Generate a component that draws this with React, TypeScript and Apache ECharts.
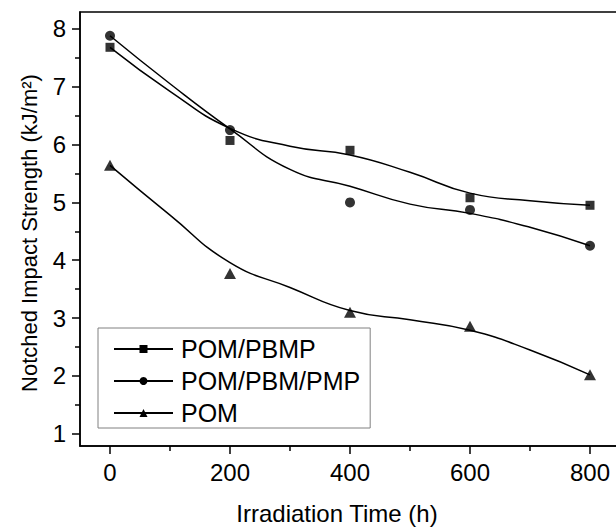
import React, { useEffect, useRef } from "react";
import * as echarts from "echarts";

// Measured data points
const hours = [0, 200, 400, 600, 800];
const pbmpPoints = [7.68, 6.07, 5.9, 5.08, 4.95];
const pbmPmpPoints = [7.88, 6.25, 5.0, 4.87, 4.25];
const pomPoints = [5.64, 3.77, 3.1, 2.86, 2.02];

// Fitted (B-spline) curves
const fitHours = [0, 100, 200, 300, 400, 500, 600, 700, 800];
const pbmpFit = [7.68, 6.92, 6.28, 5.97, 5.82, 5.52, 5.16, 5.03, 4.95];
const pbmPmpFit = [7.88, 7.05, 6.27, 5.57, 5.28, 4.97, 4.81, 4.57, 4.25];
const pomFit = [5.64, 4.78, 3.96, 3.53, 3.13, 2.97, 2.79, 2.45, 2.02];

const seriesNames = ["POM/PBMP", "POM/PBM/PMP", "POM"];
const xMajorTicks = [0, 200, 400, 600, 800];
const xMinorTicks = [100, 300, 500, 700];
const yMajorTicks = [1, 2, 3, 4, 5, 6, 7, 8];
const yMinorTicks = [1.5, 2.5, 3.5, 4.5, 5.5, 6.5, 7.5];

const FONT = "'Liberation Sans', Arial, sans-serif";

export default function App() {
  const ref = useRef<HTMLDivElement>(null);

  useEffect(() => {
    if (!ref.current) return;
    const chart = echarts.init(ref.current, null, { renderer: "svg" });
    const pair = (xs: number[], ys: number[]) => xs.map((x, i) => [x, ys[i]]);
    const symbols = ["rect", "circle", "triangle"];
    const symbolSizes: any[] = [9, 10, [12, 11]];
    const fits = [pbmpFit, pbmPmpFit, pomFit];
    const pts = [pbmpPoints, pbmPmpPoints, pomPoints];

    const series: any[] = [];
    seriesNames.forEach((name, i) => {
      series.push({
        name,
        type: "line",
        xAxisIndex: 0,
        yAxisIndex: 0,
        data: pair(fitHours, fits[i]),
        smooth: 0.5,
        symbol: symbols[i],
        showSymbol: false,
        color: "#000",
        lineStyle: { color: "#000", width: 1.5 },
        itemStyle: { color: "#000" },
        z: 2,
      });
      series.push({
        name: name + " data",
        type: "scatter",
        xAxisIndex: 0,
        yAxisIndex: 0,
        data: pair(hours, pts[i]),
        symbol: symbols[i],
        symbolSize: symbolSizes[i],
        itemStyle: { color: "#000" },
        z: 3,
      });
    });

    const tickStyle = { color: "#000", width: 1.5 };

    chart.setOption({
      animation: false,
      backgroundColor: "#fff",
      grid: {
        left: 80,
        top: 12,
        right: 10,
        bottom: 80,
        show: true,
        borderColor: "#000",
        borderWidth: 1.5,
      },
      legend: {
        data: seriesNames,
        orient: "vertical",
        left: 98,
        top: 328,
        backgroundColor: "#fff",
        borderColor: "#808080",
        borderWidth: 1,
        padding: [8, 10, 2, 15],
        itemWidth: 59,
        itemHeight: 10,
        itemGap: 6,
        textStyle: {
          fontFamily: FONT,
          fontSize: 25,
          color: "#000",
          lineHeight: 26,
          padding: [0, 0, 0, 3],
        },
      },
      xAxis: [
        {
          type: "value",
          min: -50,
          max: 850,
          position: "bottom",
          name: "Irradiation Time (h)",
          nameLocation: "middle",
          nameGap: 55,
          nameTextStyle: {
            fontFamily: FONT,
            fontSize: 24,
            color: "#000",
            padding: [0, 26, 0, 0],
          },
          axisLine: { show: true, onZero: false, lineStyle: { color: "#000", width: 1.5 } },
          axisTick: {
            show: true,
            inside: false,
            length: 8,
            lineStyle: tickStyle,
            customValues: xMajorTicks,
          },
          axisLabel: {
            show: true,
            margin: 14,
            fontFamily: FONT,
            fontSize: 24,
            color: "#000",
            customValues: xMajorTicks,
          },
          splitLine: { show: false },
        },
        {
          type: "value",
          min: -50,
          max: 850,
          position: "bottom",
          axisLine: { show: false, onZero: false },
          axisTick: {
            show: true,
            inside: false,
            length: 5,
            lineStyle: tickStyle,
            customValues: xMinorTicks,
          },
          axisLabel: { show: false },
          splitLine: { show: false },
        },
      ],
      yAxis: [
        {
          type: "value",
          min: 0.79,
          max: 8.29,
          position: "left",
          name: "Notched Impact Strength (kJ/m²)",
          nameLocation: "middle",
          nameGap: 40,
          nameTextStyle: {
            fontFamily: FONT,
            fontSize: 22,
            color: "#000",
            padding: [0, 8, 0, 0],
          },
          axisLine: { show: true, onZero: false, lineStyle: { color: "#000", width: 1.5 } },
          axisTick: {
            show: true,
            inside: false,
            length: 8,
            lineStyle: tickStyle,
            customValues: yMajorTicks,
          },
          axisLabel: {
            show: true,
            margin: 14,
            fontFamily: FONT,
            fontSize: 24,
            color: "#000",
            customValues: yMajorTicks,
          },
          splitLine: { show: false },
        },
        {
          type: "value",
          min: 0.79,
          max: 8.29,
          position: "left",
          axisLine: { show: false, onZero: false },
          axisTick: {
            show: true,
            inside: false,
            length: 5,
            lineStyle: tickStyle,
            customValues: yMinorTicks,
          },
          axisLabel: { show: false },
          splitLine: { show: false },
        },
      ],
      series,
    });

    return () => chart.dispose();
  }, []);

  return (
    <div
      style={{
        position: "absolute",
        left: 0,
        top: 0,
        width: 616,
        height: 530,
        overflow: "hidden",
        background: "#fff",
      }}
    >
      <div ref={ref} style={{ width: 630, height: 530 }} />
    </div>
  );
}
